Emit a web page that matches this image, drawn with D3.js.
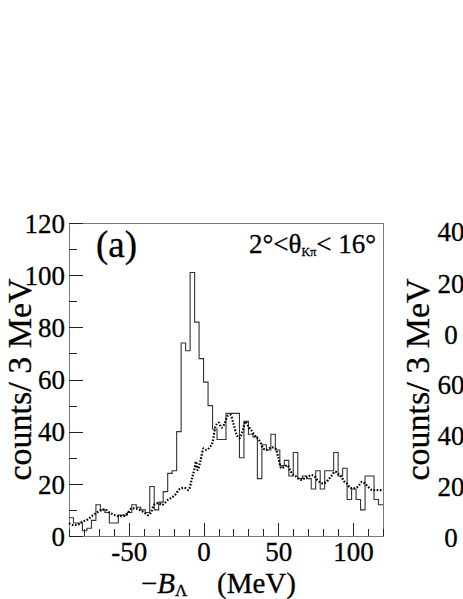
<!DOCTYPE html>
<html>
<head>
<meta charset="utf-8">
<script src="https://cdn.jsdelivr.net/npm/d3@7"></script>
<style>
  html, body { margin: 0; padding: 0; background: #fff; }
  svg { display: block; font-family: "Liberation Serif", "Times New Roman", serif; }
</style>
</head>
<body>
<div id="chart"></div>
<script>
// histogram: 3 MeV bins starting at -90 MeV
const binStart = -90;
const binWidth = 3;
const counts = [
   7,  5,  5,  2,  3,  6, 12, 10,  9,  5,
   5,  8,  8,  9, 12, 11, 10,  9, 19, 10,
  13, 17, 24, 25, 40, 74, 71,101, 82, 68,
  59, 50, 41, 37, 37, 47, 47, 47, 30, 44,
  39, 38, 22, 35, 33, 39, 33, 27, 29, 23,
  32, 22, 23, 22, 18, 25, 18, 25, 25, 32,
  23, 26, 14, 18, 14, 10, 23, 23, 14, 12
];

// dotted curve (simulated spectrum)
const simX = [-90, -87, -84, -81, -78, -75, -72, -69, -66, -63, -60, -57, -54, -51, -48, -45, -42, -39, -37, -35,
  -33, -30, -28, -26, -24, -21, -19, -16, -13, -10, -8, -6, -5, -4, -2, 0, 2, 4, 6, 8,
  10, 11, 12, 14, 16, 18, 20, 22, 24, 26, 28, 30, 32, 34, 36, 38, 40, 42, 44, 46,
  48, 50, 52, 54, 56, 58, 60, 62, 64, 66, 68, 70, 72, 74, 76, 78, 80, 82, 84, 86,
  88, 90, 92, 94, 96, 98, 100, 102, 104, 106, 108, 110, 112, 114, 117, 120];
const simY = [4.9, 4.2, 4.4, 5.5, 6.2, 7.5, 8.7, 9.8, 10.2, 9, 8.2, 7.6, 7.6, 8.6, 10.6, 10.5, 9.8, 8.7, 8, 9.2,
  12, 12.6, 11.9, 12.6, 13.8, 14.8, 15.8, 18, 18.5, 17.6, 21.5, 26, 28.5, 25.3, 29, 33.6, 33, 34, 36, 42,
  43.5, 42.5, 41.5, 43, 46, 46.4, 43, 39, 37.5, 40, 43.9, 42, 40.5, 38.7, 37.5, 36, 33.5, 33, 33.6, 34,
  33.6, 30, 26, 26.5, 27.2, 25, 23.5, 22.8, 21.8, 21.5, 22.5, 22.8, 23.4, 23, 21.5, 20.6, 20.2, 20.6, 22, 23.4,
  24.7, 23.8, 22.8, 21, 20, 18.5, 18.3, 18.5, 19.5, 20.8, 20, 18.9, 17.8, 17.6, 17.6, 17.6];

const xDomain = [-90, 120];
const yDomain = [0, 120];
const xMajorTicks = [-50, 0, 50, 100];
const xMinorTicks = d3.range(-90, 121, 10);
const yMajorTicks = [0, 20, 40, 60, 80, 100, 120];
const yMinorTicks = d3.range(10, 120, 20);

// neighbouring panel, only its left edge is visible
const rightTopTicks = [0, 20, 40];
const rightBottomTicks = [0, 20, 40, 60];

const W = 463, H = 599;
const plot = { left: 69, top: 223, right: 383, bottom: 536 };

const svg = d3.select('#chart').append('svg')
  .attr('width', W).attr('height', H)
  .attr('viewBox', [0, 0, W, H]);

const x = d3.scaleLinear().domain(xDomain).range([plot.left, plot.right]);
const y = d3.scaleLinear().domain(yDomain).range([plot.bottom, plot.top]);

// frame
svg.append('rect')
  .attr('x', plot.left + 0.5).attr('y', plot.top + 0.5)
  .attr('width', plot.right - plot.left).attr('height', plot.bottom - plot.top)
  .attr('fill', 'none').attr('stroke', '#7a7a7a').attr('stroke-width', 1);

function styleAxis(g) {
  g.attr('font-family', null);
  g.select('.domain').remove();
  g.selectAll('.tick line').attr('stroke', '#222').attr('shape-rendering', 'crispEdges');
  g.selectAll('.tick text').attr('fill', '#000').attr('stroke', '#000').attr('stroke-width', 0.3);
}

// y axis, ticks pointing inward
svg.append('g').attr('transform', `translate(${plot.left},0)`)
  .call(d3.axisLeft(y).tickValues(yMinorTicks).tickSize(-8).tickFormat(''))
  .call(styleAxis);
svg.append('g').attr('transform', `translate(${plot.left},0)`)
  .call(d3.axisLeft(y).tickValues(yMajorTicks).tickSize(-14).tickPadding(4).tickFormat(d => String(d)))
  .call(styleAxis)
  .call(g => g.selectAll('.tick text').attr('font-size', 27).attr('dy', '0.34em'));

// x axis
svg.append('g').attr('transform', `translate(0,${plot.bottom})`)
  .call(d3.axisBottom(x).tickValues(xMinorTicks).tickSize(-7).tickFormat(''))
  .call(styleAxis);
svg.append('g').attr('transform', `translate(0,${plot.bottom})`)
  .call(d3.axisBottom(x).tickValues(xMajorTicks).tickSize(-13).tickPadding(6).tickFormat(d => String(d)))
  .call(styleAxis)
  .call(g => g.selectAll('.tick text').attr('font-size', 27));

// histogram as steps
const edges = counts.map((c, i) => [binStart + i * binWidth, c]);
edges.push([binStart + counts.length * binWidth, counts[counts.length - 1]]);
const stepLine = d3.line()
  .x(d => x(d[0]))
  .y(d => y(d[1]))
  .curve(d3.curveStepAfter);
svg.append('path')
  .datum(edges)
  .attr('d', stepLine)
  .attr('fill', 'none')
  .attr('stroke', '#333')
  .attr('stroke-width', 1.1);

// dotted simulation curve
const simLine = d3.line()
  .x((d, i) => x(simX[i]))
  .y(d => y(d))
  .curve(d3.curveMonotoneX);
svg.append('path')
  .datum(simY)
  .attr('d', simLine)
  .attr('fill', 'none')
  .attr('stroke', '#000')
  .attr('stroke-width', 2.2)
  .attr('stroke-dasharray', '1.6 1.6');

// panel label and angle cut
svg.append('text')
  .attr('x', 96).attr('y', 257)
  .attr('font-size', 37)
  .attr('stroke', '#000').attr('stroke-width', 0.3)
  .text('(a)');

const cut = svg.append('text')
  .attr('x', 376).attr('y', 253)
  .attr('text-anchor', 'end')
  .attr('font-size', 27)
  .attr('stroke', '#000').attr('stroke-width', 0.3);
cut.append('tspan').text('2°<θ');
cut.append('tspan').attr('font-size', 12).attr('dy', 3).text('Kπ');
cut.append('tspan').attr('dy', -3).text('< 16°');

// x title
const xt = svg.append('text')
  .attr('x', 141).attr('y', 593)
  .attr('font-size', 29)
  .attr('stroke', '#000').attr('stroke-width', 0.3);
xt.append('tspan').text('−');
xt.append('tspan').attr('font-style', 'italic').text('B');
xt.append('tspan').attr('font-size', 17).attr('dy', 3).text('Λ');
xt.append('tspan').attr('x', 217).attr('dy', -3).text('(MeV)');

// y title
svg.append('text')
  .attr('transform', `translate(31,${(plot.top + plot.bottom) / 2}) rotate(-90)`)
  .attr('text-anchor', 'middle')
  .attr('font-size', 34)
  .attr('stroke', '#000').attr('stroke-width', 0.3)
  .text('counts/ 3 MeV');

// left edge of the next panel
const yRightTop = d3.scaleLinear().domain([0, 40]).range([335, 232]);
const yRightBottom = d3.scaleLinear().domain([0, 60]).range([538, 385]);
svg.append('g').selectAll('text')
  .data(rightTopTicks.map(v => ({ v, py: yRightTop(v) }))
    .concat(rightBottomTicks.map(v => ({ v, py: yRightBottom(v) }))))
  .join('text')
  .attr('x', 451).attr('y', d => d.py)
  .attr('dy', '0.34em')
  .attr('text-anchor', 'middle')
  .attr('font-size', 27)
  .attr('stroke', '#000').attr('stroke-width', 0.3)
  .text(d => String(d.v));
svg.append('text')
  .attr('transform', `translate(429,${(plot.top + plot.bottom) / 2}) rotate(-90)`)
  .attr('text-anchor', 'middle')
  .attr('font-size', 34)
  .attr('stroke', '#000').attr('stroke-width', 0.3)
  .text('counts/ 3 MeV');
</script>
</body>
</html>
